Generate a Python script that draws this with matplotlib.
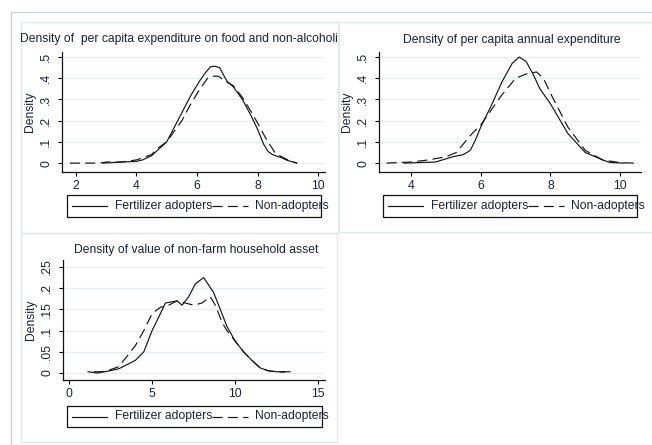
import matplotlib
matplotlib.use("Agg")
import matplotlib.pyplot as plt
from matplotlib.patches import Rectangle
from matplotlib.lines import Line2D

plt.rcParams['font.family'] = ['Liberation Sans', 'DejaVu Sans']

W, H = 652., 445.

# ---- Data
# panel 1: per capita expenditure on food and non-alcoholic beverages
food_adopt_x = [2.9, 3.5, 4.0, 4.2, 4.5, 5.0, 5.4, 5.8, 6.1, 6.3, 6.45, 6.6, 6.75, 6.9, 7.0, 7.2, 7.5, 7.8, 8.0, 8.2, 8.35, 8.5, 8.8, 9.0, 9.3]
food_adopt_y = [0.0, 0.005, 0.008, 0.015, 0.035, 0.10, 0.21, 0.32, 0.39, 0.43, 0.455, 0.457, 0.45, 0.41, 0.385, 0.36, 0.30, 0.22, 0.16, 0.09, 0.055, 0.04, 0.025, 0.012, 0.0]
food_non_x = [1.8, 2.8, 3.0, 3.5, 4.0, 4.5, 4.7, 5.0, 5.5, 5.8, 6.1, 6.35, 6.5, 6.7, 6.9, 7.2, 7.5, 7.8, 8.0, 8.3, 8.6, 8.8, 9.0, 9.3]
food_non_y = [0.0, 0.0, 0.005, 0.005, 0.015, 0.04, 0.07, 0.10, 0.20, 0.28, 0.35, 0.40, 0.41, 0.41, 0.39, 0.365, 0.31, 0.24, 0.19, 0.11, 0.045, 0.03, 0.015, 0.0]

# panel 2: per capita annual expenditure
exp_adopt_x = [3.8, 4.3, 4.7, 5.0, 5.2, 5.5, 5.7, 5.85, 6.0, 6.3, 6.6, 6.9, 7.1, 7.3, 7.5, 7.7, 8.0, 8.5, 9.0, 9.5, 9.7, 10.1]
exp_adopt_y = [0.0, 0.003, 0.005, 0.02, 0.03, 0.04, 0.06, 0.11, 0.17, 0.27, 0.38, 0.47, 0.50, 0.48, 0.42, 0.35, 0.28, 0.14, 0.05, 0.015, 0.003, 0.0]
exp_non_x = [3.3, 4.0, 4.5, 5.0, 5.3, 5.7, 6.0, 6.3, 6.6, 7.0, 7.3, 7.6, 7.8, 8.0, 8.5, 9.0, 9.5, 10.0, 10.4]
exp_non_y = [0.0, 0.005, 0.015, 0.03, 0.05, 0.13, 0.18, 0.25, 0.32, 0.40, 0.42, 0.43, 0.40, 0.33, 0.17, 0.06, 0.015, 0.002, 0.0]

# panel 3: value of non-farm household asset
asset_adopt_x = [1.15, 1.7, 2.3, 3.0, 4.0, 4.5, 5.0, 5.5, 5.8, 6.2, 6.5, 6.8, 7.2, 7.6, 8.1, 8.7, 9.2, 9.5, 10.0, 10.5, 11.0, 11.5, 12.0, 12.5, 13.3]
asset_adopt_y = [0.003, 0.0, 0.004, 0.01, 0.03, 0.05, 0.10, 0.14, 0.165, 0.168, 0.17, 0.16, 0.18, 0.21, 0.225, 0.19, 0.14, 0.11, 0.075, 0.05, 0.03, 0.012, 0.005, 0.003, 0.003]
asset_non_x = [1.5, 2.0, 2.5, 3.0, 3.5, 4.0, 4.5, 5.0, 5.5, 6.0, 6.5, 7.0, 7.5, 8.0, 8.5, 8.8, 9.2, 9.5, 10.0, 10.5, 11.0, 11.5, 12.0, 12.5, 13.0]
asset_non_y = [0.003, 0.003, 0.008, 0.015, 0.04, 0.065, 0.10, 0.14, 0.155, 0.16, 0.17, 0.165, 0.16, 0.165, 0.18, 0.16, 0.12, 0.10, 0.075, 0.05, 0.03, 0.012, 0.005, 0.003, 0.002]

titles = ["Density of  per capita expenditure on food and non-alcoholic beverages",
          "Density of per capita annual expenditure",
          "Density of value of non-farm household asset"]
legend_labels = ["Fertilizer adopters", "Non-adopters"]

p1_xticks = [2, 4, 6, 8, 10]
p2_xticks = [4, 6, 8, 10]
p3_xticks = [0, 5, 10, 15]
p12_yticks = [0, 0.1, 0.2, 0.3, 0.4, 0.5]
p12_ylabels = ["0", ".1", ".2", ".3", ".4", ".5"]
p3_yticks = [0, 0.05, 0.1, 0.15, 0.2, 0.25]
p3_ylabels = ["0", ".05", ".1", ".15", ".2", ".25"]

TXT = '#1c2238'
GRID = '#e6eff0'
BORDER = '#e2e9ea'
FS = 8.7
DASH = (8.5, 4.5)


def fx(px):
    return px / W


def fy(py):
    return 1 - py / H


fig = plt.figure(figsize=(W / 100, H / 100), dpi=100)

# outer frame (top + left line)
fig.add_artist(Line2D([fx(11), fx(11), fx(652)], [fy(445), fy(12), fy(12)],
                      transform=fig.transFigure, color='#cdd2d2', lw=1.0))

panels = [
    dict(box=(21, 22, 338, 233), ax=(62, 52, 325, 172), xlim=(1.54, 10.23), ylim=(-0.042, 0.524),
         xt=p1_xticks, yt=p12_yticks, yl=p12_ylabels, title_x=None, title_y=39,
         leg=(67, 195, 321, 217),
         data=(food_adopt_x, food_adopt_y, food_non_x, food_non_y)),
    dict(box=(339, 22, 660, 232), ax=(379, 52, 641, 172), xlim=(3.08, 10.6), ylim=(-0.042, 0.524),
         xt=p2_xticks, yt=p12_yticks, yl=p12_ylabels, title_x=511.5, title_y=40,
         leg=(383, 195, 637, 217),
         data=(exp_adopt_x, exp_adopt_y, exp_non_x, exp_non_y)),
    dict(box=(21, 233, 337, 442), ax=(63, 260, 325, 380), xlim=(-0.36, 15.4), ylim=(-0.0165, 0.2665),
         xt=p3_xticks, yt=p3_yticks, yl=p3_ylabels, title_x=196.5, title_y=250,
         leg=(67, 406, 322, 427),
         data=(asset_adopt_x, asset_adopt_y, asset_non_x, asset_non_y)),
]

for i, p in enumerate(panels):
    bx0, by0, bx1, by1 = p['box']
    rect = Rectangle((fx(bx0), fy(by1)), fx(bx1) - fx(bx0), fy(by0) - fy(by1),
                     transform=fig.transFigure, fill=False, ec=BORDER, lw=1.0)
    fig.add_artist(rect)

    x0, y0, x1, y1 = p['ax']
    ax = fig.add_axes([fx(x0), fy(y1), fx(x1) - fx(x0), fy(y0) - fy(y1)])
    ax.set_xlim(*p['xlim'])
    ax.set_ylim(*p['ylim'])
    for s in ['top', 'right']:
        ax.spines[s].set_visible(False)
    for s in ['left', 'bottom']:
        ax.spines[s].set_linewidth(0.9)
        ax.spines[s].set_color('#111111')
    ax.set_xticks(p['xt'])
    ax.set_xticklabels([str(v) for v in p['xt']])
    ax.set_yticks(p['yt'])
    ax.set_yticklabels(p['yl'], rotation=90, va='center')
    ax.tick_params(length=3, width=0.8, labelsize=FS, labelcolor=TXT, pad=3)
    ax.tick_params(axis='y', pad=4)
    ax.yaxis.grid(True, color=GRID, lw=1.0)
    ax.set_axisbelow(True)
    ax.set_ylabel("Density", fontsize=FS, color=TXT, labelpad=3)

    ax_x, ax_y, nx, ny = p['data']
    ax.plot(ax_x, ax_y, color='#151515', lw=0.85)
    ax.plot(nx, ny, color='#151515', lw=0.85, dashes=DASH)

    # title
    if p['title_x'] is None:
        t = fig.text(fx(bx0 - 1), fy(p['title_y']), titles[i], ha='left', va='center',
                     fontsize=FS, color=TXT)
        clip = Rectangle((fx(bx0), fy(by1)), fx(bx1) - fx(bx0), fy(by0) - fy(by1),
                         transform=fig.transFigure, visible=False)
        fig.add_artist(clip)
        t.set_clip_path(clip)
    else:
        fig.text(fx(p['title_x']), fy(p['title_y']), titles[i], ha='center', va='center',
                 fontsize=FS, color=TXT)

    # legend drawn by hand (text spills out of the box, as in the original)
    lx0, ly0, lx1, ly1 = p['leg']
    fig.add_artist(Rectangle((fx(lx0), fy(ly1)), fx(lx1) - fx(lx0), fy(ly0) - fy(ly1),
                             transform=fig.transFigure, fill=False, ec='#111111', lw=0.9))
    ym = fy((ly0 + ly1) / 2)
    fig.add_artist(Line2D([fx(lx0 + 5), fx(lx0 + 40)], [ym, ym], transform=fig.transFigure,
                          color='#151515', lw=0.85))
    fig.text(fx(lx0 + 48), ym, legend_labels[0], ha='left', va='center', fontsize=FS, color=TXT)
    fig.add_artist(Line2D([fx(lx0 + 145), fx(lx0 + 181)], [ym, ym], transform=fig.transFigure,
                          color='#151515', lw=0.85, dashes=DASH))
    fig.text(fx(lx0 + 188), ym, legend_labels[1], ha='left', va='center', fontsize=FS, color=TXT)

fig.savefig("out.png", dpi=100)
